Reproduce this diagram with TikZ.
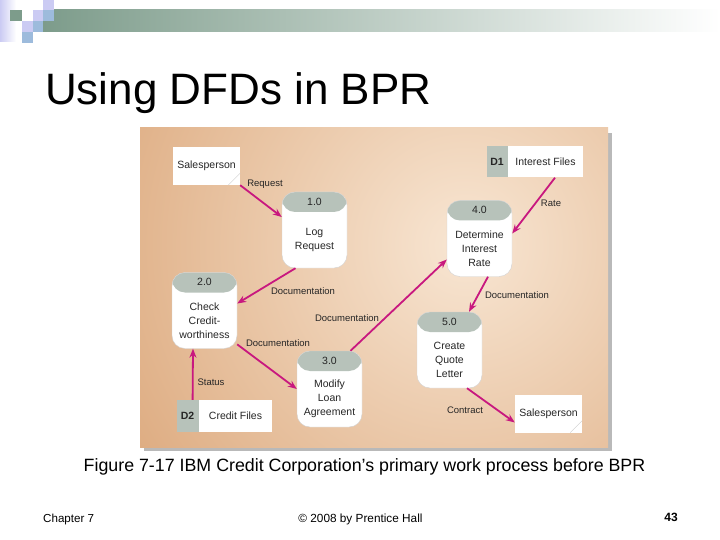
\documentclass[tikz,border=0pt]{standalone}
\usepackage{fontspec}
\setmainfont{Liberation Sans}
\usetikzlibrary{positioning,arrows.meta}

\definecolor{flowpink}{HTML}{C8187F}
\definecolor{hdrgray}{HTML}{B7C2BA}
\definecolor{paneldark}{HTML}{DBA679}
\definecolor{panellight}{HTML}{F8E6D3}
\definecolor{bargreen}{HTML}{7D9C8B}
\definecolor{sqlav}{HTML}{CBCBF3}
\definecolor{sqblue}{HTML}{9DBBDC}

\tikzset{
  proc/.style={draw=gray!35, fill=white, rounded corners=13pt,
    minimum width=65pt, minimum height=76pt, inner sep=0pt,
    path picture={\fill[hdrgray] (path picture bounding box.north west)
      rectangle ([yshift=-20pt]path picture bounding box.north east);}},
  proctext/.style={align=center, font=\fontsize{10.5}{14}\selectfont, text=black!85},
  hdrtext/.style={font=\fontsize{10.5}{12}\selectfont, text=black!85},
  extent/.style={fill=white, minimum width=67pt, minimum height=38pt, inner sep=0pt,
    font=\fontsize{10.5}{12}\selectfont, text=black!85},
  store/.style={fill=white, minimum height=31pt, inner sep=0pt,
    font=\fontsize{10.5}{12}\selectfont, text=black!85},
  storeid/.style={fill=hdrgray, minimum height=31pt, minimum width=21pt, inner sep=0pt,
    font=\fontsize{10.5}{12}\selectfont\bfseries, text=black!85},
  lbl/.style={font=\fontsize{9.5}{11}\selectfont, text=black!85, inner sep=0pt},
  flow/.style={flowpink, line width=1.8pt, -{Stealth[length=9pt,width=7pt]}}
}

\begin{document}
\begin{tikzpicture}[x=1pt, y=-1pt]
    \useasboundingbox (0,0) rectangle (720,540);
    \fill[white] (0,0) rectangle (720,540);

    % Slide decoration at the top
    \shade[left color=sqlav, right color=white] (0,0) rectangle (16,42);
    \shade[left color=bargreen, right color=white] (43,10) rectangle (720,32);
    \fill[bargreen] (10,10) rectangle (22,21);
    \fill[sqlav] (22,21) rectangle (33,32);
    \fill[sqblue] (33,21) rectangle (43,32);
    \fill[sqblue] (22,32) rectangle (33,43);
    \fill[sqlav] (33,10) rectangle (43,21);
    \fill[sqlav] (43,0) rectangle (54,10);
    \fill[sqblue] (43,10) rectangle (54,21);

    % Title
    \node[anchor=base west, inner sep=0pt, font=\fontsize{44}{50}\selectfont] (title) at (45,105) {Using DFDs in BPR};

    % Figure panel with shadow
    \fill[gray!55] (144,133) rectangle (612,451);
    \begin{scope}
        \clip (140,128) rectangle (608,447);
        \shade[inner color=panellight, outer color=paneldark] (465,245) circle (430);
    \end{scope}

    % External entities
    \node[extent] (sp1) at (206.5,166) {Salesperson};
    \node[extent] (sp2) at (548.5,413.5) {Salesperson};
    \draw[gray!40, thin] ([xshift=-12pt]sp1.south east) -- ([yshift=12pt]sp1.south east);
    \draw[gray!40, thin] ([xshift=-12pt]sp2.south east) -- ([yshift=12pt]sp2.south east);

    % Data stores
    \node[store, minimum width=75pt] (d1) at (545.5,162) {Interest Files};
    \node[storeid, left=0pt of d1] (d1id) {D1};
    \node[store, minimum width=73pt, minimum height=32pt] (d2) at (235.5,416) {Credit Files};
    \node[storeid, minimum width=22pt, minimum height=32pt, left=0pt of d2] (d2id) {D2};

    % Processes
    \node[proc] (p1) at (314.5,230) {};
    \node[proc] (p2) at (204.5,310.5) {};
    \node[proc] (p3) at (329.5,389) {};
    \node[proc] (p4) at (479.5,238.5) {};
    \node[proc] (p5) at (449.5,350) {};

    \node[hdrtext] (p1n) at ([yshift=-10pt]p1.north) {1.0};
    \node[hdrtext] (p2n) at ([yshift=-10pt]p2.north) {2.0};
    \node[hdrtext] (p3n) at ([yshift=-10pt]p3.north) {3.0};
    \node[hdrtext] (p4n) at ([yshift=-10pt]p4.north) {4.0};
    \node[hdrtext] (p5n) at ([yshift=-10pt]p5.north) {5.0};

    \node[proctext] (p1t) at ([yshift=-10pt]p1.center) {Log\\Request};
    \node[proctext] (p2t) at ([yshift=-10pt]p2.center) {Check\\Credit-\\worthiness};
    \node[proctext] (p3t) at ([yshift=-10pt]p3.center) {Modify\\Loan\\Agreement};
    \node[proctext] (p4t) at ([yshift=-10pt]p4.center) {Determine\\Interest\\Rate};
    \node[proctext] (p5t) at ([yshift=-10pt]p5.center) {Create\\Quote\\Letter};

    % Data flows
    \draw[flow] (sp1.south east) -- ([yshift=13pt]p1.west);
    \draw[flow] ([xshift=-19pt]p1.south) -- ([yshift=7pt]p2.east);
    \draw[flow] (p2.-46) -- (p3.west);
    \draw[flow] ([xshift=21pt]p3.north) -- ([yshift=-21pt]p4.west);
    \draw[flow] ([xshift=9.5pt]d1.south) -- ([yshift=5pt]p4.east);
    \draw[flow] ([xshift=8.5pt]p4.south) -- ([xshift=19.5pt]p5.north);
    \draw[flow] ([xshift=17.5pt]p5.south) -- ([yshift=-9pt]sp2.west);
    \draw[flow] ([xshift=5pt]d2id.north) -- ([xshift=-11.5pt]p2.south);

    % Flow labels
    \node[lbl] (l1) at (265,184) {Request};
    \node[lbl] (l2) at (303,291) {Documentation};
    \node[lbl] (l3) at (278,343) {Documentation};
    \node[lbl] (l4) at (347,318) {Documentation};
    \node[lbl] (l5) at (551,203) {Rate};
    \node[lbl] (l6) at (517,295) {Documentation};
    \node[lbl] (l7) at (465,410) {Contract};
    \node[lbl] (l8) at (211,382) {Status};

    % Caption and footer
    \node[anchor=base, inner sep=0pt, font=\fontsize{17.8}{21}\selectfont] (caption) at (364.5,471)
        {Figure 7-17 IBM Credit Corporation’s primary work process before BPR};
    \node[anchor=base west, inner sep=0pt, font=\fontsize{11.6}{13}\selectfont] (chapter) at (43,522) {Chapter 7};
    \node[anchor=base, inner sep=0pt, font=\fontsize{11.8}{13}\selectfont] (copy) at (360.5,522) {© 2008 by Prentice Hall};
    \node[anchor=base east, inner sep=0pt, font=\fontsize{12}{14}\selectfont\bfseries] (page) at (678,521) {43};
\end{tikzpicture}
\end{document}
